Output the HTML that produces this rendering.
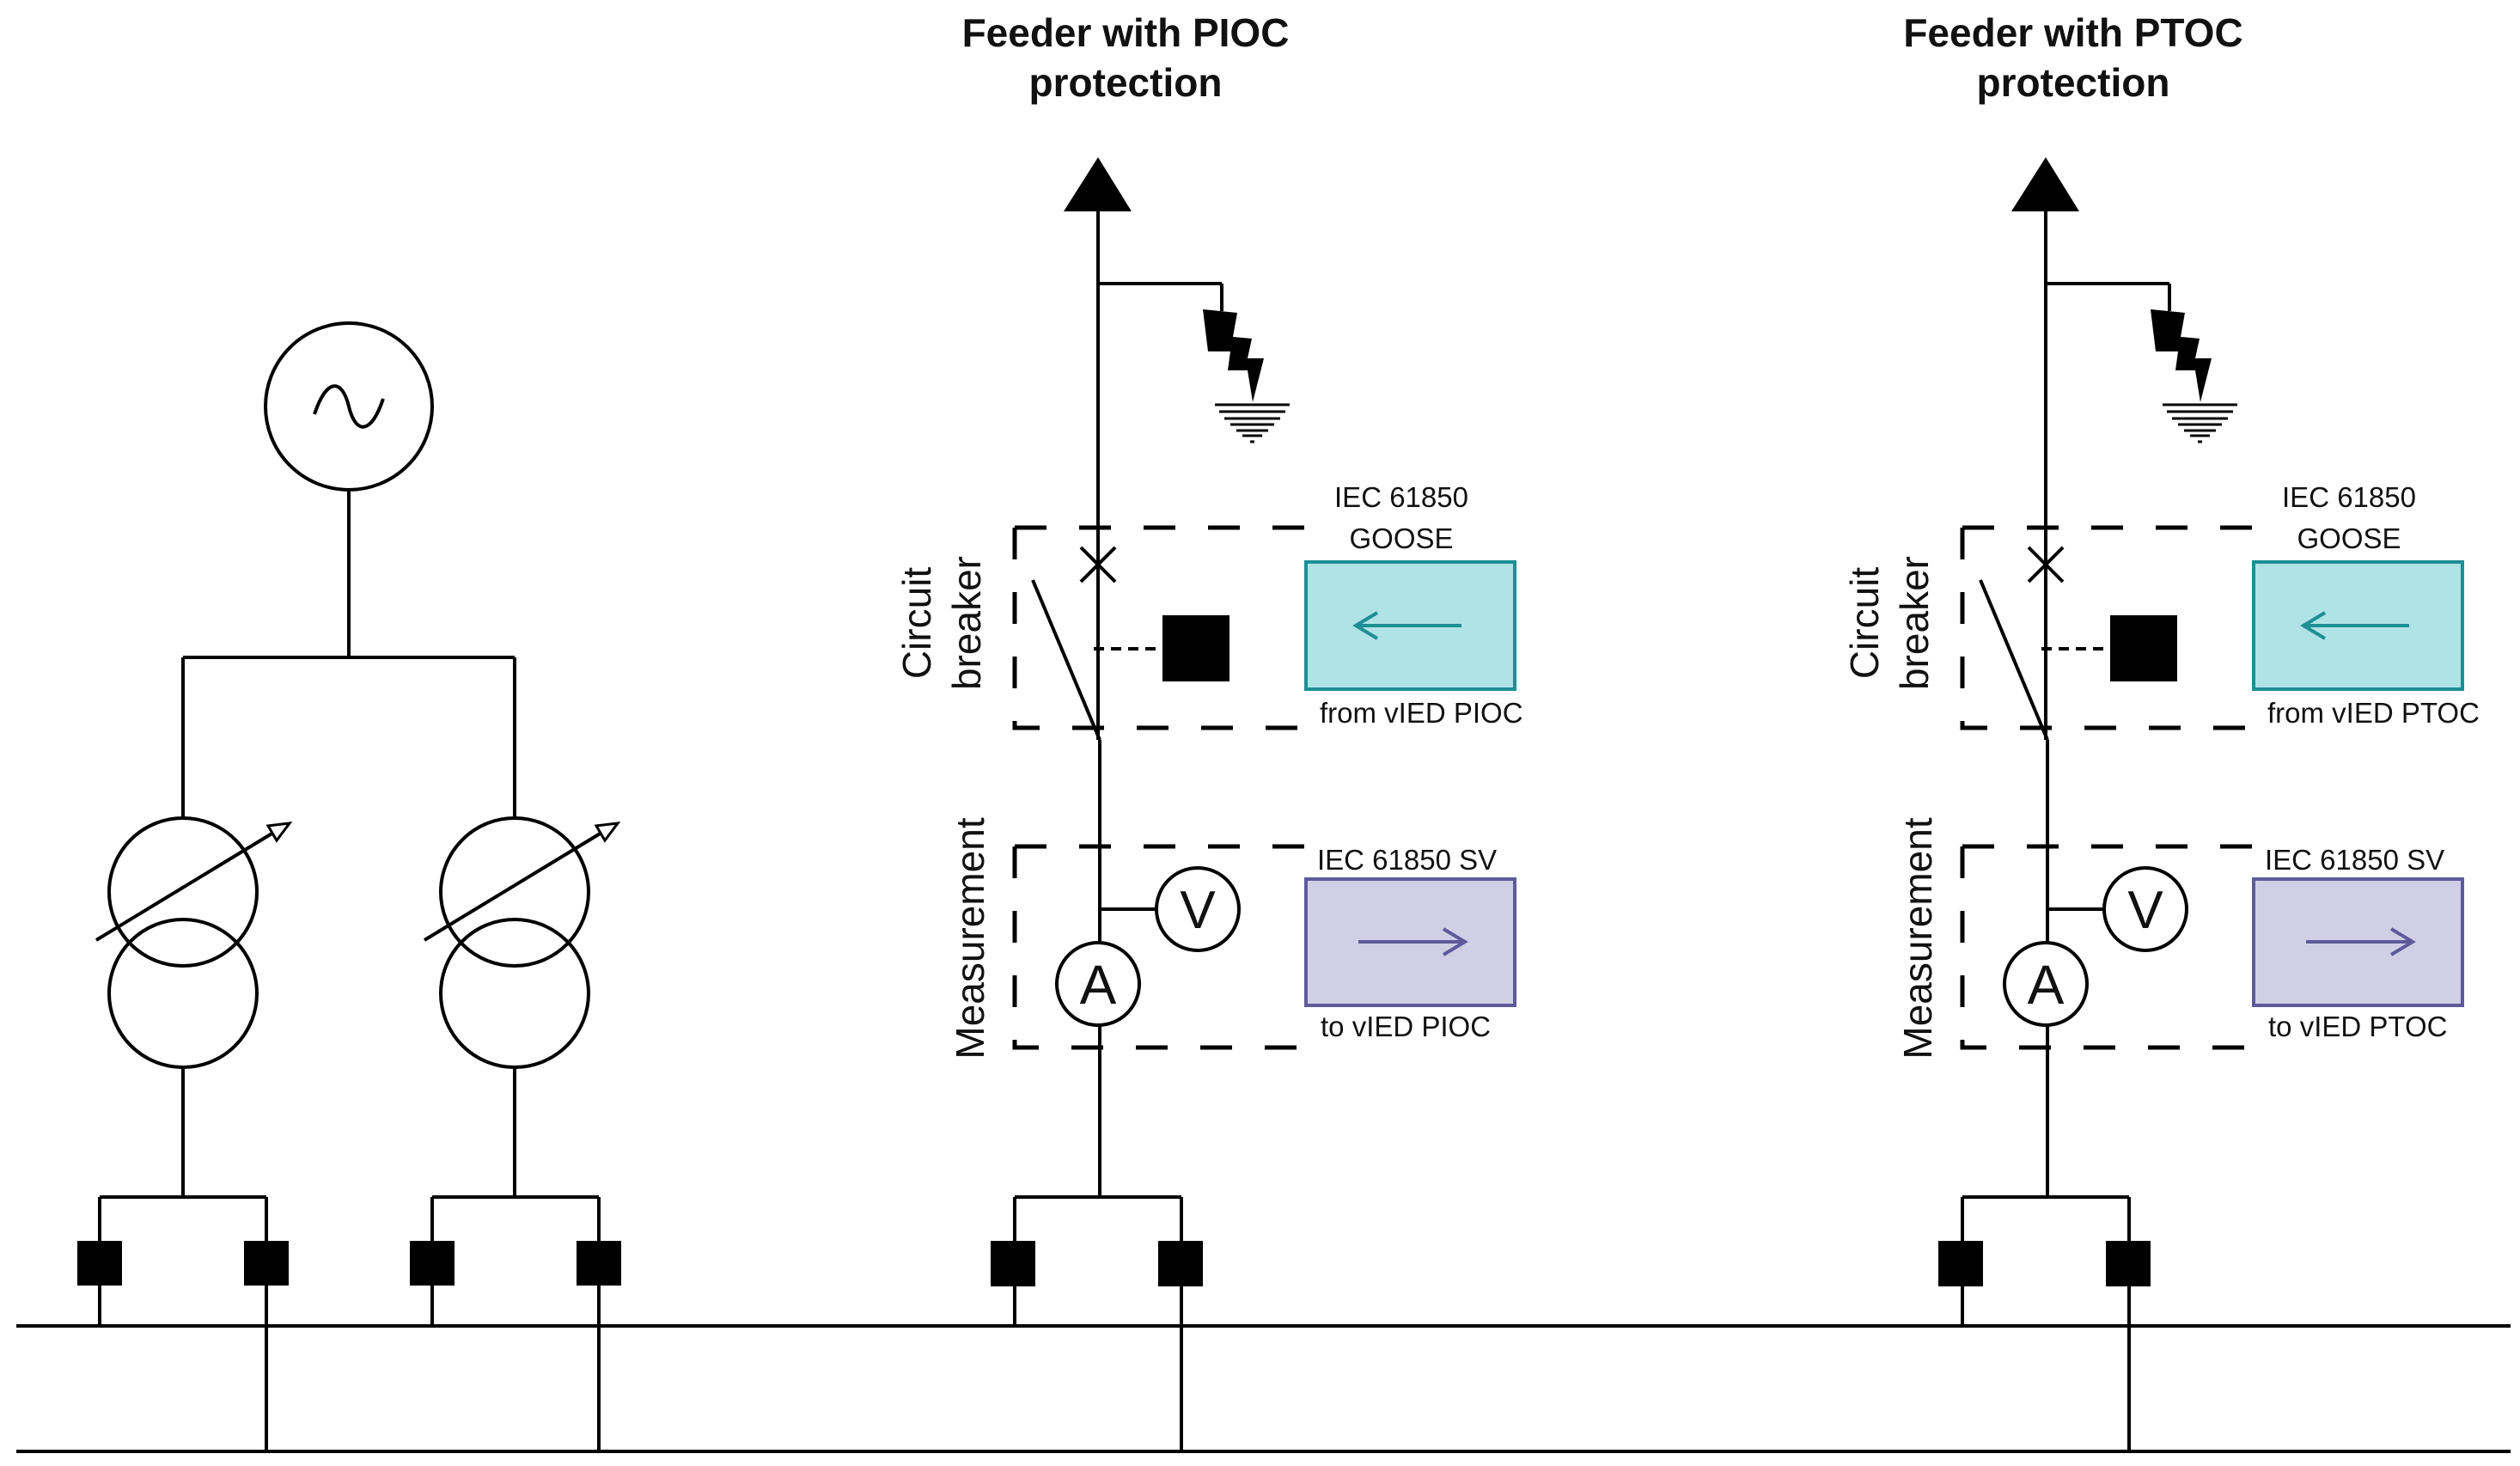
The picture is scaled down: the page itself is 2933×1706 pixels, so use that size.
<!DOCTYPE html>
<html><head><meta charset="utf-8"><style>
html,body{margin:0;padding:0;background:#fff}
svg{display:block}
text{font-family:"Liberation Sans",Arial,sans-serif;fill:#111}
</style></head><body>
<svg width="2933" height="1706" viewBox="0 0 2933 1706" xmlns="http://www.w3.org/2000/svg">
<g stroke="#000" stroke-width="4" fill="none">
<line x1="19" y1="1543" x2="2922" y2="1543"/>
<line x1="19" y1="1689" x2="2922" y2="1689"/>
<circle cx="406" cy="473" r="97"/>
<path d="M366 482 C380 440,398 440,406 473 C414 506,432 506,446 464" stroke-width="4"/>
<line x1="406" y1="570" x2="406" y2="765"/>
<line x1="213" y1="765" x2="599" y2="765"/>
<line x1="213" y1="765" x2="213" y2="952"/>
<line x1="599" y1="765" x2="599" y2="952"/>
<circle cx="213" cy="1038" r="86"/>
<circle cx="213" cy="1156" r="86"/>
<circle cx="599" cy="1038" r="86"/>
<circle cx="599" cy="1156" r="86"/>
<line x1="112" y1="1094" x2="328" y2="963"/>
<line x1="494" y1="1094" x2="710" y2="963"/>
<line x1="213" y1="1242" x2="213" y2="1393"/>
<line x1="599" y1="1242" x2="599" y2="1393"/>
<line x1="116" y1="1393" x2="310" y2="1393"/>
<line x1="503" y1="1393" x2="697" y2="1393"/>
<line x1="116" y1="1393" x2="116" y2="1543"/>
<line x1="310" y1="1393" x2="310" y2="1689"/>
<line x1="503" y1="1393" x2="503" y2="1543"/>
<line x1="697" y1="1393" x2="697" y2="1689"/>
</g>
<polygon points="337,958 312,961 322,978" fill="#fff" stroke="#000" stroke-width="3"/>
<polygon points="719,958 694,961 704,978" fill="#fff" stroke="#000" stroke-width="3"/>
<g fill="#000">
<rect x="90" y="1444" width="52" height="52"/>
<rect x="284" y="1444" width="52" height="52"/>
<rect x="477" y="1444" width="52" height="52"/>
<rect x="671" y="1444" width="52" height="52"/>
</g>

<g id="f1">
<g stroke="#000" stroke-width="4" fill="none">
<line x1="1278" y1="240" x2="1278" y2="861"/>
<line x1="1278" y1="330" x2="1422" y2="330"/>
<line x1="1422" y1="330" x2="1422" y2="362"/>
<line x1="1258" y1="637" x2="1298" y2="677"/>
<line x1="1298" y1="637" x2="1258" y2="677"/>
<line x1="1202" y1="675" x2="1280" y2="861"/>
<line x1="1280" y1="861" x2="1280" y2="1393"/>
<line x1="1181" y1="1393" x2="1375" y2="1393"/>
<line x1="1181" y1="1393" x2="1181" y2="1543"/>
<line x1="1375" y1="1393" x2="1375" y2="1689"/>
<line x1="1278" y1="1058" x2="1345" y2="1058"/>
<circle cx="1394" cy="1058" r="48" fill="#fff"/>
<circle cx="1278" cy="1145" r="48" fill="#fff"/>
<line x1="1273" y1="755" x2="1350" y2="755" stroke-dasharray="12 8"/>
<g stroke-width="5" stroke-dasharray="37 38">
<path d="M1181 614 H1520 V625"/>
<path d="M1181 614 V847 H1520 V830"/>
<path d="M1181 985 H1520 V996"/>
<path d="M1181 985 V1219 H1520 V1202"/>
</g>
</g>
<polygon points="1278,183 1238,246 1317,246" fill="#000"/>
<polygon points="1400,360 1440,364 1435,392 1457,394 1452,417 1471,417 1458,468 1452,431 1429,431 1432,409 1406,409" fill="#000"/>
<g stroke="#000" stroke-width="3">
<line x1="1414" y1="471" x2="1501" y2="471"/>
<line x1="1419" y1="479" x2="1496" y2="479"/>
<line x1="1425" y1="487" x2="1490" y2="487"/>
<line x1="1432" y1="494" x2="1483" y2="494"/>
<line x1="1439" y1="501" x2="1476" y2="501"/>
<line x1="1446" y1="507" x2="1469" y2="507"/>
<line x1="1455" y1="514" x2="1460" y2="514"/>
</g>
<rect x="1353" y="716" width="78" height="77" fill="#000"/>
<rect x="1153" y="1444" width="52" height="53" fill="#000"/>
<rect x="1348" y="1444" width="52" height="53" fill="#000"/>
<rect x="1520" y="654" width="243" height="148" fill="#b0e3e5" stroke="#1e8f94" stroke-width="4"/>
<g stroke="#1e8f94" stroke-width="4" fill="none"><line x1="1578" y1="728" x2="1701" y2="728"/><polyline points="1603,713 1578,728 1603,743"/></g>
<rect x="1520" y="1023" width="243" height="147" fill="#d0cfe6" stroke="#5e5a9a" stroke-width="4"/>
<g stroke="#5e5a9a" stroke-width="4" fill="none"><line x1="1581" y1="1096" x2="1705" y2="1096"/><polyline points="1680,1081 1705,1096 1680,1111"/></g>
<text x="1394" y="1080" font-size="62" text-anchor="middle">V</text>
<text x="1278" y="1168" font-size="64" text-anchor="middle">A</text>
<text x="1310" y="54" font-size="46" font-weight="bold" text-anchor="middle">Feeder with PIOC</text>
<text x="1310" y="112" font-size="46" font-weight="bold" text-anchor="middle">protection</text>
<text x="1631" y="590" font-size="33" text-anchor="middle">IEC 61850</text>
<text x="1631" y="638" font-size="33" text-anchor="middle">GOOSE</text>
<text x="1536" y="841" font-size="33">from vIED PIOC</text>
<text x="1533" y="1012" font-size="33">IEC 61850 SV</text>
<text x="1537" y="1206" font-size="33">to vIED PIOC</text>
<text transform="translate(1083,725) rotate(-90)" font-size="46" text-anchor="middle">Circuit</text>
<text transform="translate(1141,725) rotate(-90)" font-size="46" text-anchor="middle">breaker</text>
<text transform="translate(1145,1092) rotate(-90)" font-size="46" text-anchor="middle">Measurement</text>
</g>

<g transform="translate(1103,0)">
<g stroke="#000" stroke-width="4" fill="none">
<line x1="1278" y1="240" x2="1278" y2="861"/>
<line x1="1278" y1="330" x2="1422" y2="330"/>
<line x1="1422" y1="330" x2="1422" y2="362"/>
<line x1="1258" y1="637" x2="1298" y2="677"/>
<line x1="1298" y1="637" x2="1258" y2="677"/>
<line x1="1202" y1="675" x2="1280" y2="861"/>
<line x1="1280" y1="861" x2="1280" y2="1393"/>
<line x1="1181" y1="1393" x2="1375" y2="1393"/>
<line x1="1181" y1="1393" x2="1181" y2="1543"/>
<line x1="1375" y1="1393" x2="1375" y2="1689"/>
<line x1="1278" y1="1058" x2="1345" y2="1058"/>
<circle cx="1394" cy="1058" r="48" fill="#fff"/>
<circle cx="1278" cy="1145" r="48" fill="#fff"/>
<line x1="1273" y1="755" x2="1350" y2="755" stroke-dasharray="12 8"/>
<g stroke-width="5" stroke-dasharray="37 38">
<path d="M1181 614 H1520 V625"/>
<path d="M1181 614 V847 H1520 V830"/>
<path d="M1181 985 H1520 V996"/>
<path d="M1181 985 V1219 H1520 V1202"/>
</g>
</g>
<polygon points="1278,183 1238,246 1317,246" fill="#000"/>
<polygon points="1400,360 1440,364 1435,392 1457,394 1452,417 1471,417 1458,468 1452,431 1429,431 1432,409 1406,409" fill="#000"/>
<g stroke="#000" stroke-width="3">
<line x1="1414" y1="471" x2="1501" y2="471"/>
<line x1="1419" y1="479" x2="1496" y2="479"/>
<line x1="1425" y1="487" x2="1490" y2="487"/>
<line x1="1432" y1="494" x2="1483" y2="494"/>
<line x1="1439" y1="501" x2="1476" y2="501"/>
<line x1="1446" y1="507" x2="1469" y2="507"/>
<line x1="1455" y1="514" x2="1460" y2="514"/>
</g>
<rect x="1353" y="716" width="78" height="77" fill="#000"/>
<rect x="1153" y="1444" width="52" height="53" fill="#000"/>
<rect x="1348" y="1444" width="52" height="53" fill="#000"/>
<rect x="1520" y="654" width="243" height="148" fill="#b0e3e5" stroke="#1e8f94" stroke-width="4"/>
<g stroke="#1e8f94" stroke-width="4" fill="none"><line x1="1578" y1="728" x2="1701" y2="728"/><polyline points="1603,713 1578,728 1603,743"/></g>
<rect x="1520" y="1023" width="243" height="147" fill="#d0cfe6" stroke="#5e5a9a" stroke-width="4"/>
<g stroke="#5e5a9a" stroke-width="4" fill="none"><line x1="1581" y1="1096" x2="1705" y2="1096"/><polyline points="1680,1081 1705,1096 1680,1111"/></g>
<text x="1394" y="1080" font-size="62" text-anchor="middle">V</text>
<text x="1278" y="1168" font-size="64" text-anchor="middle">A</text>
<text x="1310" y="54" font-size="46" font-weight="bold" text-anchor="middle">Feeder with PTOC</text>
<text x="1310" y="112" font-size="46" font-weight="bold" text-anchor="middle">protection</text>
<text x="1631" y="590" font-size="33" text-anchor="middle">IEC 61850</text>
<text x="1631" y="638" font-size="33" text-anchor="middle">GOOSE</text>
<text x="1536" y="841" font-size="33">from vIED PTOC</text>
<text x="1533" y="1012" font-size="33">IEC 61850 SV</text>
<text x="1537" y="1206" font-size="33">to vIED PTOC</text>
<text transform="translate(1083,725) rotate(-90)" font-size="46" text-anchor="middle">Circuit</text>
<text transform="translate(1141,725) rotate(-90)" font-size="46" text-anchor="middle">breaker</text>
<text transform="translate(1145,1092) rotate(-90)" font-size="46" text-anchor="middle">Measurement</text>
</g>
</svg>
</body></html>
